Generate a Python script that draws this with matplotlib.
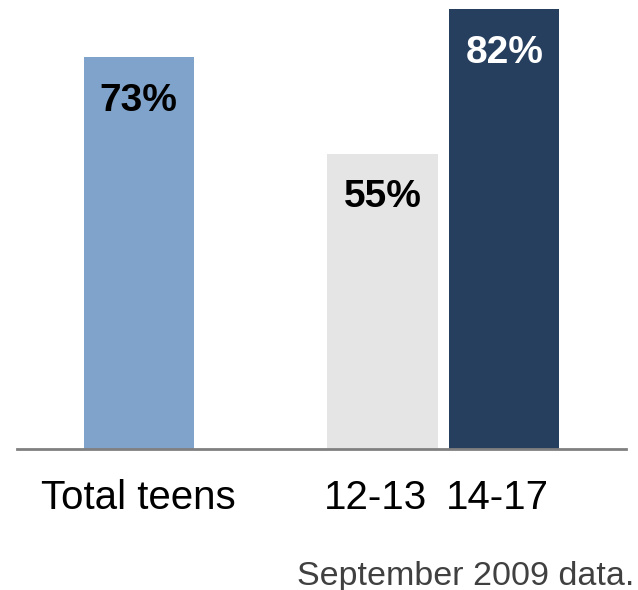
import matplotlib
matplotlib.use("Agg")
import matplotlib.pyplot as plt
import matplotlib.transforms as mtransforms

categories = ["Total teens", "12-13", "14-17"]
values = [73, 55, 82]
value_labels = ["73%", "55%", "82%"]
bar_colors = ["#7fa3ca", "#e5e5e5", "#263f5e"]
label_colors = ["black", "black", "white"]
note = "September 2009 data."

plt.rcParams["font.family"] = ["Liberation Sans", "DejaVu Sans"]

fig = plt.figure(figsize=(6.38, 5.90), dpi=100)
W, H = 638, 590
ax = fig.add_axes([17 / W, (H - 448.5) / H, 609 / W, 448.5 / H])

positions = [0, 2, 3]
bars = ax.bar(positions, values, width=0.905, color=bar_colors, zorder=2)

ax.set_xlim(-1.0, 4.0)
ax.set_ylim(0, 448.5 / 5.36)

for b, lab, c in zip(bars, value_labels, label_colors):
    ax.annotate(lab, (b.get_x() + b.get_width() / 2, b.get_height()),
                xytext=(0, -18.5), textcoords="offset points",
                ha="center", va="top", fontsize=28, fontweight="bold", color=c)

ax.set_xticks(positions)
ax.set_xticklabels(categories, fontsize=29, color="black")
ax.tick_params(axis="x", length=0, pad=22)
ax.set_yticks([])
# the two age-group labels sit slightly left of their bar centres
shift = mtransforms.ScaledTranslation(-7 / 100, 0, fig.dpi_scale_trans)
for lbl in ax.get_xticklabels()[1:]:
    lbl.set_transform(lbl.get_transform() + shift)
for s in ["top", "right", "left"]:
    ax.spines[s].set_visible(False)
ax.spines["bottom"].set_color("#808080")
ax.spines["bottom"].set_linewidth(2)
ax.spines["bottom"].set_zorder(3)

fig.text(634 / W, 1 - 576 / H, note, ha="right", va="center",
         fontsize=24.5, color="#404040")

fig.savefig("out.png", dpi=100)
